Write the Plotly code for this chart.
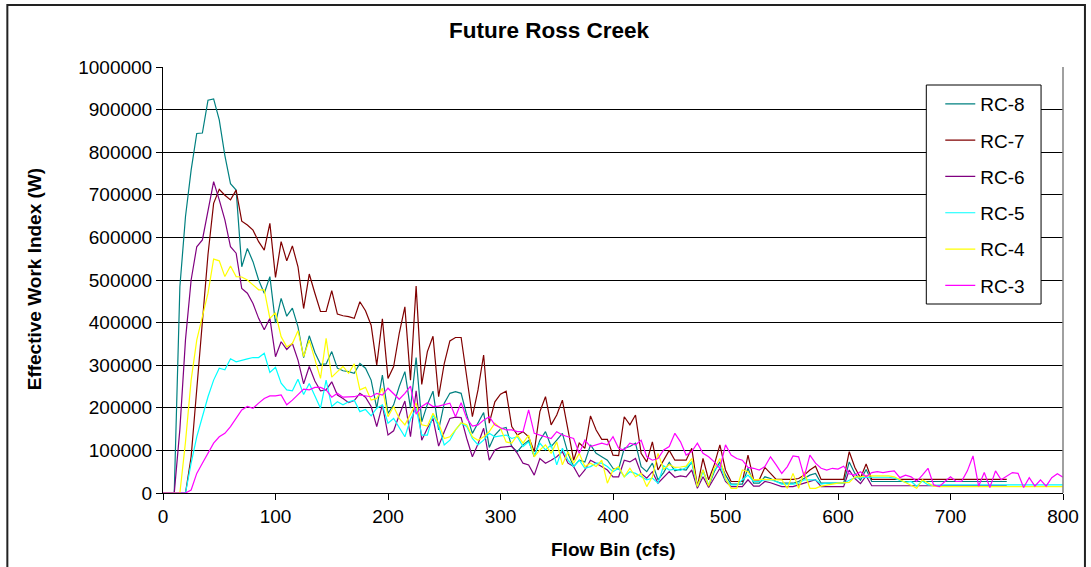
import plotly.graph_objects as go

# Flow bins (cfs), 5 cfs wide
flow_bins = list(range(0, 805, 5))

series_names = ["RC-8", "RC-7", "RC-6", "RC-5", "RC-4", "RC-3"]

rc8 = [
    0, 0, 0, 484000, 649000, 758000, 844000, 845000, 922000, 925000,
    876000, 792000, 726000, 711000, 531000, 574000, 543000, 500000, 469000, 508000,
    399000, 457000, 415000, 434000, 390000, 318000, 369000, 330000, 302000, 303000,
    332000, 293000, 287000, 285000, 281000, 304000, 293000, 265000, 199000, 277000,
    187000, 207000, 250000, 285000, 199000, 318000, 167000, 208000, 239000, 148000,
    211000, 234000, 238000, 234000, 183000, 140000, 164000, 189000, 107000, 136000,
    150000, 154000, 109000, 97000, 113000, 123000, 85000, 124000, 144000, 109000,
    124000, 140000, 93000, 62000, 77000, 73000, 113000, 93000, 85000, 77000,
    58000, 56000, 105000, 109000, 117000, 62000, 50000, 70000, 31000, 48000,
    72000, 52000, 56000, 54000, 73000, 15000, 54000, 16000, 50000, 73000,
    42000, 21000, 21000, 21000, 58000, 23000, 23000, 38000, 34000, 27000,
    23000, 23000, 23000, 27000, 34000, 42000, 46000, 23000, 23000, 23000,
    23000, 23000, 73000, 46000, 30000, 55000, 27000, 27000, 27000, 27000,
    27000, 27000, 27000, 27000, 27000, 27000, 27000, 27000, 27000, 27000,
    27000, 27000, 27000, 27000, 27000, 27000, 27000, 27000, 27000, 27000,
    27000,
]

rc7 = [
    0, 0, 0, 0, 0, 85000, 250000, 410000, 560000, 680000,
    713000, 699000, 688000, 711000, 638000, 629000, 617000, 590000, 570000, 633000,
    506000, 590000, 545000, 580000, 531000, 433000, 514000, 469000, 426000, 426000,
    475000, 420000, 416000, 414000, 410000, 449000, 428000, 394000, 300000, 409000,
    269000, 297000, 375000, 437000, 265000, 486000, 255000, 332000, 368000, 226000,
    304000, 357000, 365000, 365000, 273000, 179000, 242000, 324000, 164000, 214000,
    232000, 239000, 156000, 136000, 144000, 132000, 97000, 191000, 226000, 160000,
    183000, 218000, 148000, 77000, 117000, 105000, 181000, 148000, 126000, 126000,
    89000, 88000, 179000, 160000, 183000, 93000, 73000, 120000, 54000, 77000,
    100000, 77000, 77000, 77000, 105000, 15000, 81000, 31000, 66000, 113000,
    54000, 27000, 27000, 27000, 89000, 31000, 31000, 60000, 46000, 32000,
    32000, 32000, 32000, 34000, 42000, 54000, 63000, 32000, 32000, 32000,
    32000, 32000, 97000, 60000, 35000, 68000, 32000, 32000, 32000, 32000,
    32000, 32000, 32000, 32000, 32000, 32000, 32000, 32000, 32000, 32000,
    32000, 32000, 32000, 32000, 32000, 32000, 32000, 32000, 32000, 32000,
    32000,
]

rc6 = [
    0, 0, 0, 150000, 360000, 500000, 578000, 594000, 664000, 731000,
    688000, 641000, 578000, 563000, 480000, 469000, 445000, 410000, 383000, 410000,
    320000, 355000, 337000, 351000, 312000, 256000, 297000, 263000, 240000, 242000,
    261000, 230000, 222000, 212000, 217000, 234000, 225000, 203000, 156000, 207000,
    136000, 146000, 183000, 216000, 132000, 240000, 124000, 152000, 175000, 110000,
    144000, 175000, 178000, 177000, 128000, 85000, 115000, 152000, 77000, 101000,
    107000, 109000, 110000, 93000, 70000, 66000, 42000, 81000, 70000, 77000,
    85000, 97000, 70000, 62000, 38000, 54000, 77000, 70000, 62000, 54000,
    38000, 38000, 77000, 73000, 81000, 46000, 35000, 50000, 23000, 37000,
    50000, 37000, 40000, 38000, 54000, 11000, 38000, 13000, 34000, 58000,
    27000, 15000, 15000, 15000, 31000, 16000, 16000, 27000, 24000, 19000,
    15000, 15000, 15000, 19000, 23000, 27000, 31000, 15000, 15000, 15000,
    15000, 15000, 54000, 34000, 22000, 40000, 17000, 17000, 17000, 17000,
    17000, 17000, 17000, 17000, 17000, 17000, 17000, 17000, 17000, 17000,
    17000, 17000, 17000, 17000, 17000, 17000, 17000, 17000, 17000, 17000,
    17000,
]

rc5 = [
    0, 0, 0, 0, 0, 70000, 132000, 179000, 226000, 265000,
    293000, 289000, 315000, 308000, 312000, 315000, 318000, 318000, 328000, 283000,
    295000, 258000, 242000, 240000, 267000, 231000, 257000, 228000, 199000, 265000,
    203000, 214000, 207000, 214000, 218000, 191000, 196000, 181000, 199000, 207000,
    164000, 175000, 152000, 132000, 173000, 199000, 136000, 136000, 183000, 156000,
    113000, 124000, 148000, 164000, 156000, 128000, 113000, 124000, 140000, 132000,
    134000, 136000, 128000, 132000, 109000, 120000, 89000, 117000, 101000, 113000,
    66000, 105000, 77000, 62000, 77000, 58000, 62000, 70000, 70000, 62000,
    50000, 58000, 38000, 50000, 46000, 38000, 31000, 35000, 23000, 64000,
    54000, 56000, 53000, 60000, 73000, 15000, 50000, 19000, 54000, 66000,
    31000, 19000, 19000, 31000, 42000, 27000, 27000, 31000, 31000, 27000,
    21000, 21000, 21000, 23000, 31000, 31000, 31000, 21000, 23000, 23000,
    23000, 23000, 30000, 36000, 36000, 37000, 37000, 37000, 37000, 37000,
    35000, 30000, 25000, 27000, 16000, 28000, 19000, 18000, 19000, 19000,
    19000, 19000, 19000, 19000, 19000, 19000, 19000, 19000, 19000, 19000,
    19000, 19000, 19000, 19000, 19000, 19000, 19000, 19000, 19000, 19000,
    19000,
]

rc4 = [
    0, 0, 0, 0, 120000, 265000, 359000, 414000, 469000, 549000,
    545000, 508000, 533000, 508000, 507000, 500000, 488000, 477000, 477000, 410000,
    423000, 367000, 343000, 351000, 381000, 320000, 359000, 312000, 269000, 363000,
    272000, 285000, 297000, 281000, 303000, 242000, 248000, 218000, 222000, 246000,
    179000, 203000, 175000, 160000, 187000, 211000, 160000, 157000, 187000, 164000,
    128000, 132000, 148000, 165000, 160000, 132000, 124000, 132000, 144000, 164000,
    152000, 120000, 117000, 136000, 117000, 136000, 85000, 101000, 113000, 93000,
    120000, 66000, 97000, 70000, 93000, 62000, 70000, 62000, 77000, 23000,
    54000, 62000, 38000, 58000, 38000, 46000, 15000, 38000, 93000, 56000,
    67000, 60000, 61000, 63000, 81000, 15000, 54000, 16000, 58000, 81000,
    34000, 11000, 11000, 54000, 50000, 31000, 32000, 32000, 32000, 32000,
    31000, 11000, 46000, 11000, 50000, 11000, 11000, 16000, 19000, 21000,
    23000, 24000, 25000, 38000, 38000, 40000, 40000, 40000, 40000, 40000,
    38000, 31000, 23000, 16000, 11000, 31000, 23000, 16000, 15000, 15000,
    15000, 15000, 15000, 15000, 15000, 15000, 15000, 15000, 15000, 15000,
    15000, 15000, 15000, 15000, 15000, 15000, 15000, 15000, 15000, 15000,
    15000,
]

rc3 = [
    0, 0, 0, 0, 0, 7000, 46000, 70000, 93000, 117000,
    132000, 140000, 156000, 175000, 195000, 203000, 199000, 211000, 222000, 228000,
    228000, 230000, 207000, 218000, 230000, 244000, 242000, 248000, 248000, 242000,
    225000, 234000, 225000, 225000, 226000, 230000, 228000, 226000, 234000, 230000,
    246000, 234000, 220000, 234000, 251000, 185000, 203000, 212000, 203000, 204000,
    208000, 211000, 179000, 212000, 175000, 157000, 160000, 171000, 179000, 160000,
    153000, 148000, 148000, 144000, 144000, 195000, 140000, 136000, 132000, 128000,
    144000, 136000, 132000, 128000, 93000, 124000, 109000, 113000, 117000, 113000,
    132000, 105000, 101000, 117000, 113000, 124000, 85000, 77000, 81000, 101000,
    109000, 140000, 120000, 89000, 97000, 117000, 93000, 85000, 73000, 58000,
    113000, 89000, 81000, 77000, 60000, 58000, 54000, 62000, 85000, 66000,
    46000, 62000, 87000, 85000, 38000, 89000, 70000, 58000, 54000, 58000,
    56000, 63000, 45000, 42000, 50000, 38000, 48000, 50000, 48000, 50000,
    52000, 36000, 42000, 38000, 27000, 42000, 58000, 19000, 15000, 27000,
    38000, 27000, 28000, 52000, 87000, 16000, 48000, 13000, 52000, 31000,
    40000, 48000, 46000, 13000, 36000, 16000, 31000, 16000, 36000, 45000,
    37000,
]

series_values = [rc8, rc7, rc6, rc5, rc4, rc3]
series_colors = ["#008080", "#800000", "#800080", "#00FFFF", "#FFFF00", "#FF00FF"]

y_tick_values = list(range(0, 1000001, 100000))
x_tick_values = list(range(0, 801, 100))

FONT = "Liberation Sans, Arial, sans-serif"

fig = go.Figure()
for name, vals, col in zip(series_names, series_values, series_colors):
    fig.add_trace(go.Scatter(
        x=flow_bins[:len(vals)],
        y=vals,
        mode="lines",
        name=name,
        legendgroup=name,
        line=dict(color=col, width=1.2),
    ))

# plot area spans pixels x 163..1065, y 67..493
L, R, T, B = 163, 26, 67, 74
W, H = 1091, 567
pw, ph = W - L - R, H - T - B

def px_x(px):
    return (px - L) / pw

def px_y(py):
    return (H - B - py) / ph

fig.update_layout(
    width=W, height=H,
    margin=dict(l=L, r=R, t=T, b=B, pad=0),
    paper_bgcolor="white",
    plot_bgcolor="white",
    font=dict(family=FONT, size=19, color="black"),
    title=dict(
        text="<b>Future Ross Creek</b>",
        font=dict(family=FONT, size=22.5, color="black"),
        x=549 / W, xanchor="center",
        y=1 - 30 / H, yanchor="middle",
        xref="container", yref="container",
    ),
    showlegend=True,
    legend=dict(
        x=px_x(942), y=px_y(85), xanchor="left", yanchor="top",
        bgcolor="rgba(0,0,0,0)", borderwidth=0,
        font=dict(family=FONT, size=19, color="black"),
        traceorder="grouped", tracegroupgap=8.6,
        itemwidth=30,
    ),
    xaxis=dict(
        range=[0, 800], tickvals=x_tick_values,
        showgrid=False, zeroline=False,
        showline=True, linecolor="black", linewidth=1,
        ticks="outside", ticklen=6, tickcolor="black",
        tickfont=dict(family=FONT, size=19, color="black"),
        fixedrange=True,
    ),
    yaxis=dict(
        range=[0, 1000000], tickvals=y_tick_values, tickformat="d",
        showgrid=True, gridcolor="black", gridwidth=1,
        zeroline=False,
        showline=True, linecolor="black", linewidth=1,
        ticks="outside", ticklen=6, tickcolor="black",
        tickfont=dict(family=FONT, size=19, color="black"),
        fixedrange=True,
    ),
    annotations=[
        dict(text="<b>Flow Bin (cfs)</b>", xref="paper", yref="paper",
             x=0.5, y=px_y(549), xanchor="center", yanchor="middle",
             showarrow=False, font=dict(family=FONT, size=19, color="black")),
        dict(text="<b>Effective Work Index (W)</b>", xref="paper", yref="paper",
             x=px_x(34), y=px_y(279), xanchor="center", yanchor="middle",
             textangle=-90, showarrow=False,
             font=dict(family=FONT, size=19, color="black")),
    ],
    shapes=[
        # chart border
        dict(type="rect", xref="paper", yref="paper",
             x0=px_x(7), x1=px_x(1087), y0=px_y(575), y1=px_y(5),
             line=dict(color="#222222", width=2), layer="above"),
        # right edge of plot area
        dict(type="line", xref="paper", yref="paper",
             x0=1, x1=1, y0=0, y1=1,
             line=dict(color="#808080", width=1.5), layer="above"),
        # legend frame
        dict(type="rect", xref="paper", yref="paper",
             x0=px_x(928), x1=px_x(1043), y0=px_y(304), y1=px_y(85),
             fillcolor="white", line=dict(color="black", width=1),
             layer="above"),
    ],
)

fig.write_html("out.html")
